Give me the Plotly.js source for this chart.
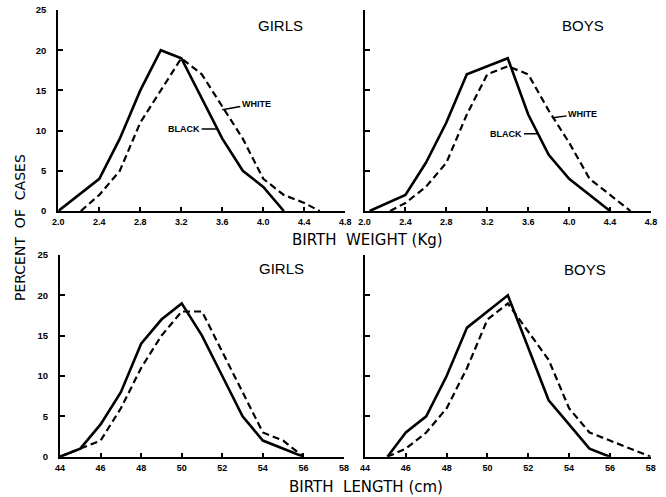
<!DOCTYPE html>
<html>
<head>
<meta charset="utf-8">
<script src="https://cdn.plot.ly/plotly-3.0.1.min.js"></script>
<style>html,body{margin:0;padding:0;background:#fff;}#chart{width:666px;height:497px;}</style>
</head>
<body>
<div id="chart"></div>
<script>
// ---- data ----
const weightTickVals = [2.0, 2.4, 2.8, 3.2, 3.6, 4.0, 4.4, 4.8];
const weightTickText = ["2.0", "2.4", "2.8", "3.2", "3.6", "4.0", "4.4", "4.8"];
const lengthTickVals = [44, 46, 48, 50, 52, 54, 56, 58];
const lengthTickText = ["44", "46", "48", "50", "52", "54", "56", "58"];
const percentTickVals = [0, 5, 10, 15, 20, 25];
const percentTickText = ["0", "5", "10", "15", "20", "25"];

const weightGirlsBlackX = [2.0, 2.4, 2.6, 2.8, 3.0, 3.2, 3.4, 3.6, 3.8, 4.0, 4.2];
const weightGirlsBlackY = [0, 4, 9, 15, 20, 19, 14, 9, 5, 3, 0];
const weightGirlsWhiteX = [2.22, 2.4, 2.6, 2.8, 3.0, 3.2, 3.4, 3.6, 3.8, 4.0, 4.2, 4.4, 4.55];
const weightGirlsWhiteY = [0, 2, 5, 11, 15, 19, 17, 13, 9, 4, 2, 1, 0];

const weightBoysBlackX = [2.05, 2.4, 2.6, 2.8, 3.0, 3.4, 3.6, 3.8, 4.0, 4.2, 4.4];
const weightBoysBlackY = [0, 2, 6, 11, 17, 19, 12, 7, 4, 2, 0];
const weightBoysWhiteX = [2.25, 2.4, 2.6, 2.8, 3.0, 3.2, 3.4, 3.6, 3.8, 4.0, 4.2, 4.4, 4.6];
const weightBoysWhiteY = [0, 1, 3, 6, 12, 17, 18, 17, 12.5, 8.5, 4, 2, 0];

const lengthGirlsBlackX = [44, 45, 46, 47, 48, 49, 50, 51, 52, 53, 54, 55, 56];
const lengthGirlsBlackY = [0, 1, 4, 8, 14, 17, 19, 15, 10, 5, 2, 1, 0];
const lengthGirlsWhiteX = [44, 45, 46, 47, 48, 49, 50, 51, 52, 53, 54, 55, 56];
const lengthGirlsWhiteY = [0, 1, 2, 6, 11, 15, 18, 18, 13, 8, 3, 2, 0];

const lengthBoysBlackX = [45.1, 46, 47, 48, 49, 50, 51, 52, 53, 54, 55, 56];
const lengthBoysBlackY = [0, 3, 5, 10, 16, 18, 20, 13.5, 7, 4, 1, 0];
const lengthBoysWhiteX = [45.1, 46, 47, 48, 49, 50, 51, 52, 53, 54, 55, 56, 57, 58];
const lengthBoysWhiteY = [0, 1, 3, 6, 11, 17, 19, 15.5, 12, 6, 3, 2, 1, 0];

// ---- styling ----
const FONT = "Liberation Sans, Arial, sans-serif";
const TFONT = "DejaVu Sans, Liberation Sans, sans-serif";
const solid = {color: "#000", width: 2.6};
const dashed = {color: "#000", width: 2.2, dash: "7px,4px"};

function tr(x, y, xa, ya, line) {
  return {x: x, y: y, xaxis: xa, yaxis: ya, type: "scatter", mode: "lines",
          line: line, hoverinfo: "skip", showlegend: false};
}

const data = [
  tr(weightGirlsBlackX, weightGirlsBlackY, "x", "y", solid),
  tr(weightGirlsWhiteX, weightGirlsWhiteY, "x", "y", dashed),
  tr(weightBoysBlackX, weightBoysBlackY, "x2", "y2", solid),
  tr(weightBoysWhiteX, weightBoysWhiteY, "x2", "y2", dashed),
  tr(lengthGirlsBlackX, lengthGirlsBlackY, "x3", "y3", solid),
  tr(lengthGirlsWhiteX, lengthGirlsWhiteY, "x3", "y3", dashed),
  tr(lengthBoysBlackX, lengthBoysBlackY, "x4", "y4", solid),
  tr(lengthBoysWhiteX, lengthBoysWhiteY, "x4", "y4", dashed)
];

const W = 666, H = 497;
function dx(a, b) { return [a / W, b / W]; }
function dy(top, bottom) { return [1 - bottom / H, 1 - top / H]; }

function xax(domain, range, vals, text, anchor) {
  return {domain: domain, range: range, anchor: anchor, tickmode: "array",
          tickvals: vals, ticktext: text, showgrid: false, zeroline: false,
          showline: true, linecolor: "#000", linewidth: 2, ticks: "inside",
          ticklen: 4, tickwidth: 2, tickcolor: "#000", ticklabelstandoff: 1,
          tickfont: {family: FONT, size: 9, color: "#000", weight: "bold"}};
}
function yax(domain, anchor, labels) {
  return {domain: domain, range: [0, 25], anchor: anchor, tickmode: "array",
          tickvals: percentTickVals, ticktext: percentTickText,
          showticklabels: labels, showgrid: false, zeroline: false,
          showline: true, linecolor: "#000", linewidth: 2, ticks: "inside",
          ticklen: 5, tickwidth: 2, tickcolor: "#000", ticklabelstandoff: 8,
          tickfont: {family: FONT, size: 9.5, color: "#000", weight: "bold"}};
}

function panelLabel(text, x, y) {
  return {text: text, xref: "paper", yref: "paper", x: x / W, y: 1 - y / H,
          showarrow: false, xanchor: "center", yanchor: "middle",
          font: {family: FONT, size: 15, color: "#000"}};
}
function curveLabel(text, xref, yref, x, y, ax, ay) {
  return {text: text, xref: xref, yref: yref, x: x, y: y, ax: ax, ay: ay,
          showarrow: true, arrowhead: 0, arrowwidth: 1.5, arrowcolor: "#000",
          standoff: 0, startstandoff: 0,
          font: {family: FONT, size: 9, color: "#000", weight: "bold"}};
}

const layout = {
  width: W, height: H,
  margin: {l: 0, r: 0, t: 0, b: 0},
  paper_bgcolor: "#fff", plot_bgcolor: "rgba(0,0,0,0)",
  showlegend: false,
  font: {family: FONT, color: "#000"},
  xaxis: xax(dx(58.3, 345.3), [2.0, 4.8], weightTickVals, weightTickText, "y"),
  yaxis: yax(dy(10, 211), "x", true),
  xaxis2: xax(dx(364.5, 651), [2.0, 4.8], weightTickVals, weightTickText, "y2"),
  yaxis2: yax(dy(10, 211), "x2", false),
  xaxis3: xax(dx(60, 344), [44, 58], lengthTickVals, lengthTickText, "y3"),
  yaxis3: yax(dy(255, 456.7), "x3", true),
  xaxis4: xax(dx(365, 650.7), [44, 58], lengthTickVals, lengthTickText, "y4"),
  yaxis4: yax(dy(255, 456.7), "x4", false),
  annotations: [
    panelLabel("GIRLS", 280, 25),
    panelLabel("BOYS", 583, 25),
    panelLabel("GIRLS", 281, 268),
    panelLabel("BOYS", 585, 269),
    curveLabel("WHITE", "x", "y", 3.6, 12.6, 34, -6),
    curveLabel("BLACK", "x", "y", 3.55, 10.2, -33, 0),
    curveLabel("WHITE", "x2", "y2", 3.84, 11.6, 30, -4),
    curveLabel("BLACK", "x2", "y2", 3.7, 9.6, -32, 0),
    {text: "BIRTH\u00a0\u00a0WEIGHT (Kg)", xref: "paper", yref: "paper",
     x: 367 / W, y: 1 - 240 / H, showarrow: false, xanchor: "center", yanchor: "middle",
     font: {family: TFONT, size: 15, color: "#000"}},
    {text: "BIRTH\u00a0\u00a0LENGTH (cm)", xref: "paper", yref: "paper",
     x: 366 / W, y: 1 - 487 / H, showarrow: false, xanchor: "center", yanchor: "middle",
     font: {family: TFONT, size: 15, color: "#000"}},
    {text: "PERCENT\u00a0\u00a0OF\u00a0\u00a0CASES", xref: "paper", yref: "paper",
     x: 20 / W, y: 1 - 228 / H, showarrow: false, textangle: -90,
     xanchor: "center", yanchor: "middle",
     font: {family: TFONT, size: 14, color: "#000"}}
  ]
};

Plotly.newPlot("chart", data, layout, {displayModeBar: false, staticPlot: true});
</script>
</body>
</html>
